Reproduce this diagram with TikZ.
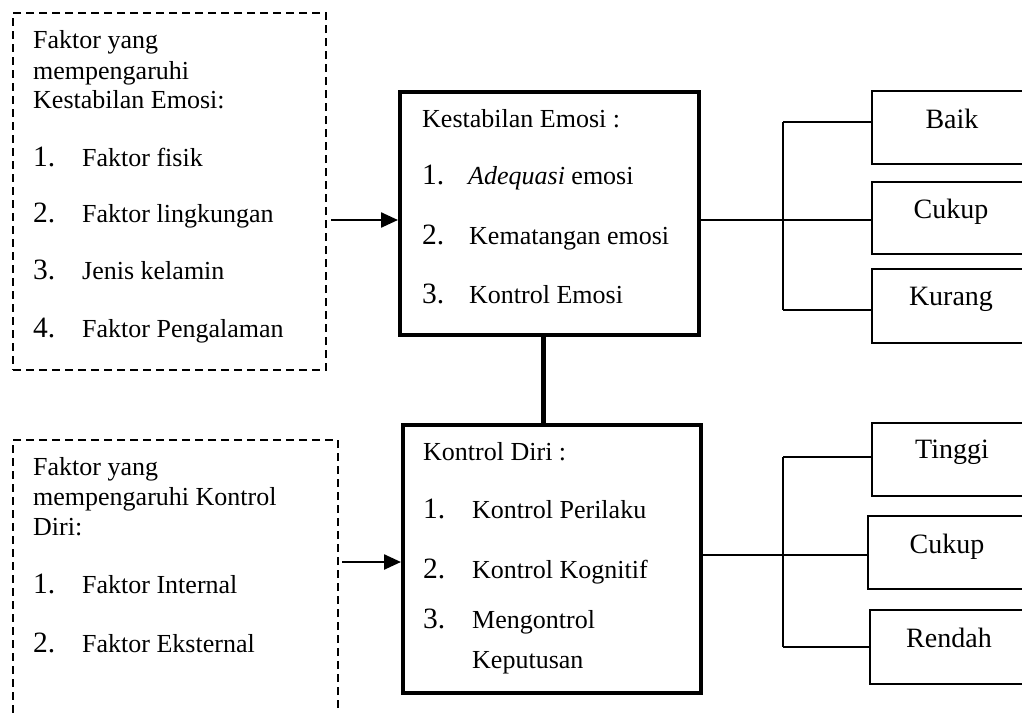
\documentclass[tikz,border=0pt]{standalone}
\usepackage{fontspec}
\setmainfont{Liberation Serif}
\usetikzlibrary{arrows.meta}
\begin{document}
\begin{tikzpicture}[x=1pt,y=-1pt,
  dbox/.style={draw, line width=2.2pt, dash pattern=on 8pt off 5pt, anchor=north west, inner sep=0pt},
  mbox/.style={draw, line width=3.5pt, anchor=north west, inner sep=0pt},
  rbox/.style={draw, line width=1.8pt, anchor=north west, inner sep=0pt},
  txt/.style={anchor=base west, inner sep=0pt, font=\fontsize{26}{30}\selectfont},
  num/.style={anchor=base west, inner sep=0pt, font=\fontsize{29.5}{30}\selectfont},
  rtxt/.style={anchor=base, inner sep=0pt, font=\fontsize{28}{30}\selectfont},
  conn/.style={line width=1.6pt},
  arr/.style={line width=2.4pt, -{Triangle[length=17pt,width=15pt]}},
  link/.style={line width=5pt}
]
\useasboundingbox (0,0) rectangle (1022,712);
\clip (0,0) rectangle (1022,712);
\fill[white] (0,0) rectangle (1022,712);

% boxes
\node[dbox, minimum width=313pt, minimum height=357pt] (fa) at (12,12) {};
\node[dbox, minimum width=325pt, minimum height=320pt] (fb) at (12,439) {};
\node[mbox, minimum width=299pt, minimum height=243pt] (ke) at (398,90) {};
\node[mbox, minimum width=298pt, minimum height=268pt] (kd) at (401,423) {};
\node[rbox, minimum width=175pt, minimum height=73pt] (baik) at (871,90) {};
\node[rbox, minimum width=175pt, minimum height=72pt] (cuk1) at (871,181) {};
\node[rbox, minimum width=175pt, minimum height=74pt] (kur) at (871,268) {};
\node[rbox, minimum width=175pt, minimum height=73pt] (ting) at (871,422) {};
\node[rbox, minimum width=180pt, minimum height=73pt] (cuk2) at (867,515) {};
\node[rbox, minimum width=178pt, minimum height=74pt] (rend) at (869,609) {};

% top-left text
\node[txt] (fa1) at (33,48) {Faktor yang};
\node[txt] (fa2) at (33,79) {mempengaruhi};
\node[txt] (fa3) at (33,108) {Kestabilan Emosi:};
\node[num] (fan1) at (33,166) {1.};
\node[txt] (fat1) at (82,166) {Faktor fisik};
\node[num] (fan2) at (33,222) {2.};
\node[txt] (fat2) at (82,222) {Faktor lingkungan};
\node[num] (fan3) at (33,279) {3.};
\node[txt] (fat3) at (82,279) {Jenis kelamin};
\node[num] (fan4) at (33,337) {4.};
\node[txt] (fat4) at (82,337) {Faktor Pengalaman};

% bottom-left text
\node[txt] (fb1) at (33,475) {Faktor yang};
\node[txt] (fb2) at (33,505) {mempengaruhi Kontrol};
\node[txt] (fb3) at (33,535) {Diri:};
\node[num] (fbn1) at (33,593) {1.};
\node[txt] (fbt1) at (82,593) {Faktor Internal};
\node[num] (fbn2) at (33,652) {2.};
\node[txt] (fbt2) at (82,652) {Faktor Eksternal};

% Kestabilan Emosi text
\node[txt] (ke0) at (422,127) {Kestabilan Emosi :};
\node[num] (ken1) at (422,184) {1.};
\node[txt] (ket1) at (468,184) {\textit{Adequasi} emosi};
\node[num] (ken2) at (422,244) {2.};
\node[txt] (ket2) at (469,244) {Kematangan emosi};
\node[num] (ken3) at (422,303) {3.};
\node[txt] (ket3) at (469,303) {Kontrol Emosi};

% Kontrol Diri text
\node[txt] (kd0) at (423,460) {Kontrol Diri :};
\node[num] (kdn1) at (423,518) {1.};
\node[txt] (kdt1) at (472,518) {Kontrol Perilaku};
\node[num] (kdn2) at (423,578) {2.};
\node[txt] (kdt2) at (472,578) {Kontrol Kognitif};
\node[num] (kdn3) at (423,628) {3.};
\node[txt] (kdt3) at (472,628) {Mengontrol};
\node[txt] (kdt4) at (472,668) {Keputusan};

% right texts
\node[rtxt] (tbaik) at (952,128) {Baik};
\node[rtxt] (tcuk1) at (951,218) {Cukup};
\node[rtxt] (tkur) at (951,305) {Kurang};
\node[rtxt] (tting) at (952,458) {Tinggi};
\node[rtxt] (tcuk2) at (947,553) {Cukup};
\node[rtxt] (trend) at (949,647) {Rendah};

% arrows from factor boxes
\coordinate (a1) at (331,220);
\draw[arr] (a1) -- (ke.west |- a1);
\coordinate (a2) at (342,562);
\draw[arr] (a2) -- (kd.west |- a2);

% link between main boxes
\coordinate (l1) at (543,0);
\draw[link] (ke.south -| l1) -- (kd.north -| l1);

% top tree
\coordinate (j1t) at (783,122);
\coordinate (j1) at (783,220);
\coordinate (j1b) at (783,310);
\draw[conn] (ke.east |- j1) -- (j1);
\draw[conn] (j1t) -- (j1b);
\draw[conn] (j1t) -- (baik.west |- j1t);
\draw[conn] (j1) -- (cuk1.west |- j1);
\draw[conn] (j1b) -- (kur.west |- j1b);

% bottom tree
\coordinate (j2t) at (783,457);
\coordinate (j2) at (783,555);
\coordinate (j2b) at (783,647);
\draw[conn, line width=2.6pt] (kd.east |- j2) -- (j2);
\draw[conn] (j2t) -- (j2b);
\draw[conn] (j2t) -- (ting.west |- j2t);
\draw[conn] (j2) -- (cuk2.west |- j2);
\draw[conn] (j2b) -- (rend.west |- j2b);
\end{tikzpicture}
\end{document}
